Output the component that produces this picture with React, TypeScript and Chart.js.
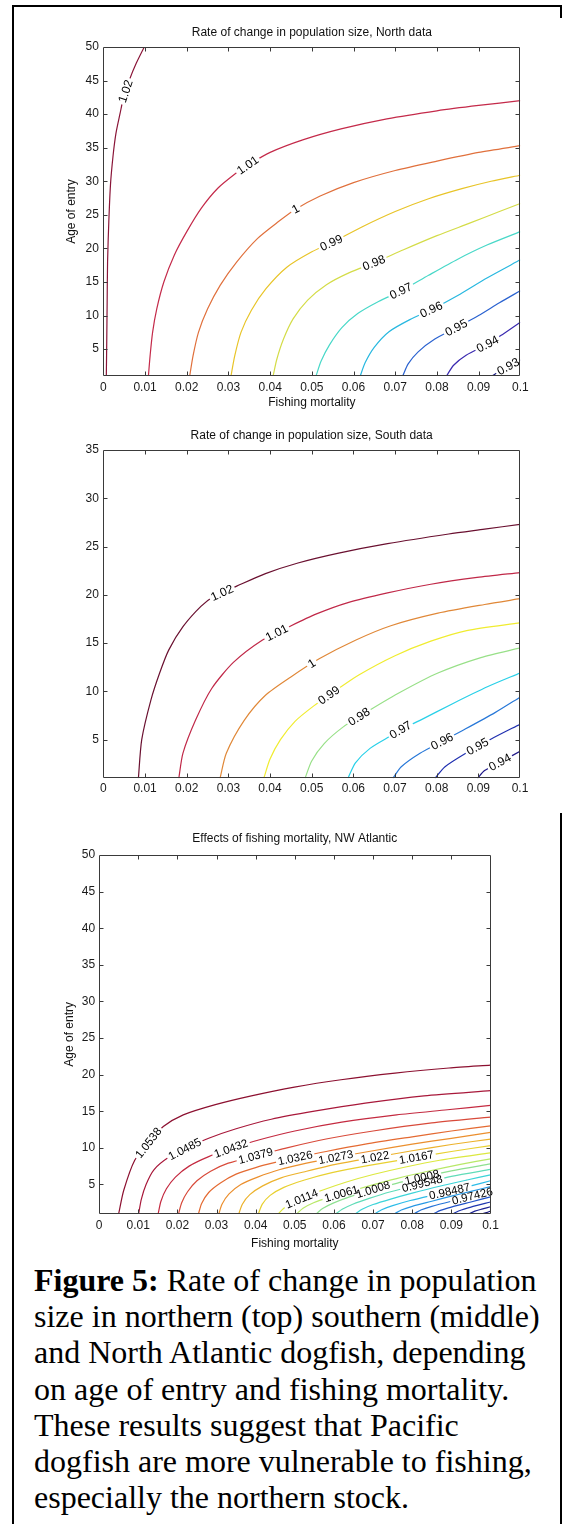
import React, { useEffect, useRef } from 'react';
import { Chart, registerables } from 'chart.js';

Chart.register(...registerables);

const FONT = "'Liberation Sans', Arial, Helvetica, sans-serif";
Chart.defaults.font.family = FONT;
Chart.defaults.color = '#1a1a1a';

// ---------- tick labels ----------
const X_TICKS = [0, 0.01, 0.02, 0.03, 0.04, 0.05, 0.06, 0.07, 0.08, 0.09, 0.1];
const Y_TICKS_50 = [5, 10, 15, 20, 25, 30, 35, 40, 45, 50];
const Y_TICKS_35 = [5, 10, 15, 20, 25, 30, 35];

// ---------- North data: contour lines [fishing mortality, age of entry] ----------
const N_102 = [[0.0007, 1], [0.0008, 6], [0.0009, 12], [0.001, 18], [0.0013, 24], [0.0017, 29.5], [0.0023, 33.7], [0.003, 37.1], [0.004, 40.1], [0.0048, 42.4], [0.0063, 45.2], [0.0079, 47.6], [0.0098, 50]];
const N_101 = [[0.0108, 1], [0.0112, 4], [0.0118, 7.5], [0.0128, 11], [0.0145, 15], [0.017, 19], [0.02, 22.5], [0.0235, 26], [0.0275, 29], [0.032, 31.3], [0.0346, 32.4], [0.04, 34.3], [0.048, 36.2], [0.057, 37.8], [0.068, 39.3], [0.08, 40.5], [0.09, 41.3], [0.1, 42.0]];
const N_100 = [[0.0207, 1], [0.0215, 4], [0.0228, 7.5], [0.025, 11], [0.028, 14.5], [0.032, 18], [0.037, 21.5], [0.042, 24], [0.046, 25.8], [0.052, 27.8], [0.06, 29.8], [0.07, 31.6], [0.08, 33], [0.09, 34.3], [0.1, 35.3]];
const N_099 = [[0.0306, 1], [0.0315, 4], [0.033, 7.5], [0.0355, 10.8], [0.039, 14], [0.044, 17.2], [0.05, 19.5], [0.0549, 20.9], [0.062, 23.2], [0.07, 25.5], [0.078, 27.4], [0.086, 28.9], [0.093, 30], [0.1, 30.9]];
const N_098 = [[0.0407, 1], [0.0416, 3.5], [0.0432, 6.5], [0.0455, 9.5], [0.049, 12.3], [0.0535, 14.6], [0.059, 16.4], [0.0651, 17.9], [0.072, 19.8], [0.08, 21.9], [0.088, 23.8], [0.095, 25.5], [0.1, 26.7]];
const N_097 = [[0.051, 1], [0.0522, 3.2], [0.0542, 5.6], [0.0572, 8.2], [0.061, 10.3], [0.066, 12.1], [0.0715, 13.7], [0.078, 16.0], [0.085, 18.4], [0.092, 20.5], [0.1, 22.5]];
const N_096 = [[0.0616, 1], [0.0628, 3.0], [0.065, 5.3], [0.0685, 7.6], [0.0735, 9.4], [0.0787, 10.9], [0.085, 13.0], [0.092, 15.6], [0.1, 18.3]];
const N_095 = [[0.0718, 1], [0.0731, 2.8], [0.0755, 4.6], [0.0795, 6.5], [0.0847, 8.2], [0.09, 10.0], [0.095, 11.9], [0.1, 13.7]];
const N_094 = [[0.0823, 1], [0.084, 2.6], [0.087, 4.1], [0.0923, 5.8], [0.096, 7.3], [0.1, 9.0]];
const N_093 = [[0.0932, 1], [0.095, 1.7], [0.0971, 2.4], [0.1, 3.4]];
const NORTH_LINES = [N_102, N_101, N_100, N_099, N_098, N_097, N_096, N_095, N_094, N_093];
const NORTH_COLORS = ['#8a1538', '#c42a4a', '#e0703c', '#e8c428', '#d4dc48', '#48d8c8', '#28b8e0', '#2a62d0', '#3a2ab0', '#1a1a80'];
const NORTH_LABELS = [
  { i: 0, x: 0.0058, y: 43.3, t: '1.02' },
  { i: 1, x: 0.0346, y: 32.4, t: '1.01' },
  { i: 2, x: 0.046, y: 26.0, t: '1' },
  { i: 3, x: 0.0549, y: 20.5, t: '0.99' },
  { i: 4, x: 0.0651, y: 17.5, t: '0.98' },
  { i: 5, x: 0.0715, y: 13.5, t: '0.97' },
  { i: 6, x: 0.0787, y: 10.8, t: '0.96' },
  { i: 7, x: 0.0847, y: 8.1, t: '0.95' },
  { i: 8, x: 0.0923, y: 5.6, t: '0.94' },
  { i: 9, x: 0.0971, y: 2.4, t: '0.93' },
];

// ---------- South data ----------
const S_102 = [[0.0084, 1], [0.0092, 5.0], [0.0114, 9.1], [0.0135, 11.9], [0.0157, 14.3], [0.0191, 16.7], [0.0234, 18.8], [0.0264, 19.8], [0.032, 20.9], [0.0389, 22.2], [0.0467, 23.3], [0.0562, 24.3], [0.0682, 25.3], [0.0829, 26.3], [0.0915, 26.8], [0.1, 27.3]];
const S_101 = [[0.0181, 1], [0.0191, 3.6], [0.0221, 7.0], [0.026, 10.3], [0.0312, 13.0], [0.0381, 15.3], [0.0441, 16.6], [0.051, 18.0], [0.0587, 19.2], [0.0682, 20.2], [0.0786, 21.1], [0.0897, 21.8], [0.1, 22.3]];
const S_100 = [[0.028, 1], [0.0295, 3.6], [0.0338, 7.0], [0.0389, 9.6], [0.045, 11.5], [0.0519, 13.4], [0.0605, 15.3], [0.069, 16.8], [0.0803, 18.1], [0.0915, 19.0], [0.1, 19.6]];
const S_099 = [[0.0385, 1], [0.04, 3], [0.0425, 5], [0.046, 6.9], [0.0505, 8.5], [0.0551, 9.9], [0.0613, 11.7], [0.07, 13.7], [0.0786, 15.2], [0.0872, 16.3], [0.1, 17.1]];
const S_098 = [[0.0484, 1], [0.05, 2.8], [0.053, 4.6], [0.0575, 6.3], [0.0622, 7.6], [0.0708, 9.8], [0.0803, 11.9], [0.0906, 13.5], [0.1, 14.5]];
const S_097 = [[0.0587, 1], [0.0605, 2.6], [0.064, 4.1], [0.069, 5.4], [0.0717, 6.1], [0.076, 7.0], [0.0837, 8.7], [0.0923, 10.5], [0.1, 11.9]];
const S_096 = [[0.0695, 1], [0.0715, 2.2], [0.076, 3.6], [0.0812, 4.8], [0.086, 5.9], [0.094, 7.8], [0.1, 9.4]];
const S_095 = [[0.0796, 1], [0.082, 2.2], [0.087, 3.6], [0.0932, 5.1], [0.1, 6.6]];
const S_094 = [[0.0898, 1], [0.0915, 1.8], [0.0958, 2.8], [0.1, 3.8]];
const SOUTH_LINES = [S_102, S_101, S_100, S_099, S_098, S_097, S_096, S_095, S_094];
const SOUTH_COLORS = ['#6a1030', '#c02848', '#e08838', '#f0ec30', '#98e088', '#28d0e8', '#2878d8', '#2030b0', '#201888'];
const SOUTH_LABELS = [
  { i: 0, x: 0.0288, y: 19.9, t: '1.02' },
  { i: 1, x: 0.0417, y: 16.0, t: '1.01' },
  { i: 2, x: 0.0503, y: 12.7, t: '1' },
  { i: 3, x: 0.0551, y: 9.0, t: '0.99' },
  { i: 4, x: 0.0622, y: 6.8, t: '0.98' },
  { i: 5, x: 0.0717, y: 5.75, t: '0.97' },
  { i: 6, x: 0.0812, y: 4.9, t: '0.96' },
  { i: 7, x: 0.0902, y: 4.0, t: '0.95' },
  { i: 8, x: 0.0954, y: 2.5, t: '0.94' },
];

// ---------- NW Atlantic data ----------
const A01 = [[0.005, 1], [0.0063, 4.2], [0.0091, 8.3], [0.0128, 10.8], [0.0164, 12.9], [0.0215, 14.5], [0.0297, 15.9], [0.0389, 17.1], [0.0499, 18.3], [0.0618, 19.3], [0.0756, 20.2], [0.0894, 20.9], [0.1, 21.3]];
const A02 = [[0.0101, 1], [0.0108, 3], [0.012, 5], [0.014, 7], [0.0175, 8.6], [0.0222, 9.9], [0.028, 11.3], [0.035, 12.6], [0.044, 13.9], [0.055, 15.0], [0.068, 16.1], [0.083, 17.1], [0.1, 17.8]];
const A03 = [[0.0151, 1], [0.0158, 2.7], [0.0172, 4.4], [0.0195, 6.0], [0.023, 7.5], [0.028, 8.8], [0.0337, 9.9], [0.041, 11.1], [0.05, 12.3], [0.062, 13.5], [0.076, 14.5], [0.089, 15.2], [0.1, 15.8]];
const A04 = [[0.0203, 1], [0.0211, 2.5], [0.0226, 4.0], [0.025, 5.5], [0.0285, 6.8], [0.033, 7.9], [0.04, 8.9], [0.048, 10.0], [0.058, 11.2], [0.07, 12.3], [0.085, 13.4], [0.1, 14.2]];
const A05 = [[0.0254, 1], [0.0262, 2.4], [0.028, 3.9], [0.031, 5.2], [0.035, 6.4], [0.04, 7.3], [0.045, 8.0], [0.05, 8.6], [0.058, 9.5], [0.068, 10.5], [0.08, 11.5], [0.09, 12.3], [0.1, 13.0]];
const A06 = [[0.0306, 1], [0.0314, 2.3], [0.0332, 3.7], [0.0362, 5.0], [0.0405, 6.0], [0.046, 7.0], [0.053, 7.9], [0.0605, 8.7], [0.07, 9.6], [0.08, 10.5], [0.09, 11.3], [0.1, 12.1]];
const A07 = [[0.0357, 1], [0.0366, 2.3], [0.0385, 3.6], [0.0418, 4.8], [0.0465, 5.9], [0.053, 6.8], [0.061, 7.8], [0.0705, 8.7], [0.08, 9.6], [0.09, 10.45], [0.1, 11.2]];
const A08 = [[0.0407, 1], [0.0417, 2.3], [0.0437, 3.5], [0.0472, 4.6], [0.0525, 5.6], [0.0595, 6.6], [0.069, 7.6], [0.0811, 8.7], [0.09, 9.5], [0.1, 10.3]];
const A09 = [[0.0458, 1], [0.0472, 1.75], [0.0495, 2.55], [0.0522, 3.15], [0.057, 4.2], [0.063, 5.3], [0.07, 6.35], [0.078, 7.35], [0.087, 8.3], [0.1, 9.3]];
const A10 = [[0.0505, 1], [0.0521, 1.75], [0.0548, 2.5], [0.0585, 3.2], [0.0625, 3.8], [0.069, 4.8], [0.076, 5.8], [0.084, 6.8], [0.092, 7.7], [0.1, 8.5]];
const A11 = [[0.0555, 1], [0.0571, 1.7], [0.0598, 2.45], [0.064, 3.3], [0.07, 4.3], [0.076, 5.15], [0.0825, 5.95], [0.09, 6.85], [0.1, 7.8]];
const A12 = [[0.0605, 1], [0.0621, 1.6], [0.0648, 2.3], [0.069, 3.1], [0.0745, 4.0], [0.0825, 5.1], [0.09, 6.1], [0.1, 7.05]];
const A13 = [[0.0655, 1], [0.0672, 1.6], [0.07, 2.25], [0.0745, 3.0], [0.08, 3.8], [0.087, 4.75], [0.094, 5.6], [0.1, 6.3]];
const A14 = [[0.0705, 1], [0.0722, 1.55], [0.075, 2.1], [0.0795, 2.8], [0.085, 3.5], [0.09, 4.1], [0.095, 4.8], [0.1, 5.5]];
const A15 = [[0.0755, 1], [0.0772, 1.5], [0.08, 2.0], [0.085, 2.7], [0.09, 3.4], [0.095, 4.05], [0.1, 4.7]];
const A16 = [[0.0805, 1], [0.0822, 1.5], [0.085, 2.0], [0.09, 2.7], [0.095, 3.35], [0.1, 4.0]];
const A17 = [[0.0855, 1], [0.0872, 1.45], [0.09, 1.9], [0.095, 2.6], [0.1, 3.3]];
const A18 = [[0.0905, 1], [0.092, 1.4], [0.095, 1.9], [0.1, 2.6]];
const A19 = [[0.0945, 1], [0.096, 1.35], [0.098, 1.65], [0.1, 1.95]];
const A20 = [[0.098, 1], [0.099, 1.15], [0.1, 1.35]];
const ATL_LINES = [A01, A02, A03, A04, A05, A06, A07, A08, A09, A10, A11, A12, A13, A14, A15, A16, A17, A18, A19, A20];
const ATL_COLORS = ['#8c1030', '#a8183a', '#c42a40', '#d84a3a', '#e46a32', '#eb8f2e', '#ecb22c', '#e8d030', '#dce840', '#b8e868', '#8ee090', '#60dcb8', '#3cd4d8', '#2cbce8', '#2898e4', '#2474d8', '#2052c8', '#1e36b0', '#1c2294', '#161478'];
const ATL_LABELS = [
  { i: 0, x: 0.0128, y: 10.6, t: '1.0538' },
  { i: 1, x: 0.0222, y: 9.5, t: '1.0485' },
  { i: 2, x: 0.0337, y: 9.9, t: '1.0432' },
  { i: 3, x: 0.04, y: 8.9, t: '1.0379' },
  { i: 4, x: 0.0501, y: 8.6, t: '1.0326' },
  { i: 5, x: 0.0605, y: 8.7, t: '1.0273' },
  { i: 6, x: 0.0705, y: 8.6, t: '1.022' },
  { i: 7, x: 0.0811, y: 8.6, t: '1.0167' },
  { i: 8, x: 0.052, y: 2.75, t: '1.0114' },
  { i: 9, x: 0.062, y: 3.5, t: '1.0061' },
  { i: 10, x: 0.07, y: 4.3, t: '1.0008' },
  { i: 10, x: 0.0825, y: 5.95, t: '1.0008' },
  { i: 11, x: 0.0825, y: 5.25, t: '0.99548' },
  { i: 13, x: 0.0897, y: 3.65, t: '0.98487' },
  { i: 15, x: 0.0957, y: 2.65, t: '0.97426' },
];

// ---------- helpers ----------
function nearestOnPolyline(pts: any[], px: number, py: number) {
  let best = { d: Infinity, x: 0, y: 0, ang: 0 };
  for (let j = 0; j < pts.length - 1; j++) {
    const a = pts[j], b = pts[j + 1];
    const dx = b.x - a.x, dy = b.y - a.y;
    const len2 = dx * dx + dy * dy || 1e-9;
    let t = ((px - a.x) * dx + (py - a.y) * dy) / len2;
    t = Math.max(0, Math.min(1, t));
    const qx = a.x + t * dx, qy = a.y + t * dy;
    const d = (qx - px) * (qx - px) + (qy - py) * (qy - py);
    if (d < best.d) best = { d, x: qx, y: qy, ang: Math.atan2(dy, dx) };
  }
  return best;
}

function tracePath(ctx: CanvasRenderingContext2D, pts: any[]) {
  ctx.beginPath();
  ctx.moveTo(pts[0].x, pts[0].y);
  for (let j = 1; j < pts.length; j++) {
    const p = pts[j - 1], q = pts[j];
    if (p.cp2x !== undefined && q.cp1x !== undefined) {
      ctx.bezierCurveTo(p.cp2x, p.cp2y, q.cp1x, q.cp1y, q.x, q.y);
    } else {
      ctx.lineTo(q.x, q.y);
    }
  }
}

function makeLabelPlugin(labels: any[], fontSize: number) {
  return {
    id: 'contourLabels',
    afterDatasetsDraw(chart: any) {
      const ctx = chart.ctx as CanvasRenderingContext2D;
      const xs = chart.scales.x, ys = chart.scales.y;
      ctx.save();
      ctx.font = `${fontSize}px ${FONT}`;
      const placed = labels.map((l) => {
        const pts = chart.getDatasetMeta(l.i).data;
        const n = nearestOnPolyline(pts, xs.getPixelForValue(l.x), ys.getPixelForValue(l.y));
        let a = n.ang;
        if (a > Math.PI / 2) a -= Math.PI;
        if (a < -Math.PI / 2) a += Math.PI;
        const w = ctx.measureText(l.t).width;
        return { x: n.x, y: n.y, a, w, t: l.t, pts };
      });
      for (const p of placed) {
        ctx.save();
        ctx.translate(p.x, p.y);
        ctx.rotate(p.a);
        ctx.beginPath();
        ctx.rect(-p.w / 2 - 2, -fontSize / 2 - 1, p.w + 4, fontSize + 2);
        ctx.rotate(-p.a);
        ctx.translate(-p.x, -p.y);
        ctx.clip();
        tracePath(ctx, p.pts);
        ctx.strokeStyle = '#ffffff';
        ctx.lineWidth = 4;
        ctx.stroke();
        ctx.restore();
      }
      ctx.fillStyle = '#000';
      ctx.textAlign = 'center';
      ctx.textBaseline = 'middle';
      for (const p of placed) {
        ctx.save();
        ctx.translate(p.x, p.y);
        ctx.rotate(p.a);
        ctx.fillText(p.t, 0, 0.5);
        ctx.restore();
      }
      ctx.restore();
    },
  };
}

const framePlugin = {
  id: 'matlabFrame',
  afterDraw(chart: any) {
    const ctx = chart.ctx as CanvasRenderingContext2D;
    const a = chart.chartArea;
    const xs = chart.scales.x, ys = chart.scales.y;
    const L = Math.round(a.left) + 0.5, R = Math.round(a.right) - 0.5;
    const T = Math.round(a.top) + 0.5, B = Math.round(a.bottom) - 0.5;
    ctx.save();
    ctx.strokeStyle = '#3a3a3a';
    ctx.lineWidth = 1;
    ctx.beginPath();
    ctx.rect(L, T, R - L, B - T);
    const tl = 4;
    xs.ticks.forEach((tk: any) => {
      if (tk.value <= xs.min || tk.value >= xs.max) return;
      const px = Math.round(xs.getPixelForValue(tk.value)) + 0.5;
      ctx.moveTo(px, B); ctx.lineTo(px, B - tl);
      ctx.moveTo(px, T); ctx.lineTo(px, T + tl);
    });
    ys.ticks.forEach((tk: any) => {
      if (tk.value <= ys.min || tk.value >= ys.max) return;
      const py = Math.round(ys.getPixelForValue(tk.value)) + 0.5;
      ctx.moveTo(L, py); ctx.lineTo(L + tl, py);
      ctx.moveTo(R, py); ctx.lineTo(R - tl, py);
    });
    ctx.stroke();
    ctx.restore();
  },
};

function buildConfig(s: any) {
  const tickFont = { family: FONT, size: 12 };
  return {
    type: 'scatter',
    data: {
      datasets: s.lines.map((pts: number[][], i: number) => ({
        data: pts.map(([x, y]) => ({ x, y })),
        showLine: true,
        borderColor: s.colors[i],
        borderWidth: 1.2,
        pointRadius: 0,
        pointHoverRadius: 0,
        tension: 0.25,
        fill: false,
      })),
    },
    options: {
      animation: false,
      responsive: false,
      events: [],
      layout: { padding: 0 },
      plugins: {
        legend: { display: false },
        tooltip: { enabled: false },
        title: {
          display: true,
          text: s.title,
          fullSize: false,
          color: '#111',
          font: { family: FONT, size: 12, weight: 'normal' },
          padding: { top: s.titlePadTop, bottom: s.titlePadBottom },
        },
      },
      scales: {
        x: {
          type: 'linear',
          position: 'bottom',
          min: 0,
          max: 0.1,
          afterBuildTicks: (sc: any) => { sc.ticks = X_TICKS.map((v) => ({ value: v })); },
          afterFit: (sc: any) => { sc.height = s.xHeight; },
          ticks: {
            callback: (v: number) => String(Math.round(v * 100) / 100),
            font: tickFont,
            color: '#1a1a1a',
            padding: s.xTickPad,
            maxRotation: 0,
            autoSkip: false,
          },
          grid: { display: false, drawTicks: false },
          border: { display: false },
          title: {
            display: !!s.xTitle,
            text: s.xTitle || '',
            color: '#111',
            font: { family: FONT, size: 12 },
            padding: { top: 0, bottom: s.xTitlePadBottom || 0 },
          },
        },
        y: {
          type: 'linear',
          position: 'left',
          min: 1,
          max: s.yMax,
          afterBuildTicks: (sc: any) => { sc.ticks = s.yTicks.map((v: number) => ({ value: v })); },
          afterFit: (sc: any) => { sc.width = s.yWidth; },
          ticks: {
            font: tickFont,
            color: '#1a1a1a',
            padding: s.yTickPad,
            autoSkip: false,
          },
          grid: { display: false, drawTicks: false },
          border: { display: false },
          title: {
            display: !!s.yTitle,
            text: s.yTitle || '',
            color: '#111',
            font: { family: FONT, size: 12 },
            padding: { top: s.yTitlePadTop || 0, bottom: 0 },
          },
        },
        y2: {
          type: 'linear',
          position: 'right',
          display: true,
          afterFit: (sc: any) => { sc.width = s.rightWidth; },
          ticks: { display: false },
          grid: { display: false, drawTicks: false },
          border: { display: false },
        },
      },
    },
    plugins: [makeLabelPlugin(s.labels, s.labelFont), framePlugin],
  };
}

function ContourPlot({ spec }: { spec: any }) {
  const ref = useRef<HTMLCanvasElement | null>(null);
  useEffect(() => {
    if (!ref.current) return;
    const chart = new Chart(ref.current, buildConfig(spec) as any);
    return () => chart.destroy();
  }, [spec]);
  return (
    <canvas
      ref={ref}
      width={563}
      height={spec.canvasHeight}
      style={{ position: 'absolute', left: 0, top: spec.canvasTop, width: 563, height: spec.canvasHeight }}
    />
  );
}

const NORTH_SPEC = {
  title: 'Rate of change in population size, North data',
  lines: NORTH_LINES, colors: NORTH_COLORS, labels: NORTH_LABELS, labelFont: 12,
  yMax: 50, yTicks: Y_TICKS_50,
  canvasTop: 15, canvasHeight: 401,
  titlePadTop: 10.5, titlePadBottom: 7.1,
  xHeight: 40, xTickPad: 4, xTitle: 'Fishing mortality', xTitlePadBottom: 5.8,
  yWidth: 103.4, yTickPad: 4.6, yTitle: 'Age of entry', yTitlePadTop: 64.6,
  rightWidth: 42.7,
};

const SOUTH_SPEC = {
  title: 'Rate of change in population size, South data',
  lines: SOUTH_LINES, colors: SOUTH_COLORS, labels: SOUTH_LABELS, labelFont: 12,
  yMax: 35, yTicks: Y_TICKS_35,
  canvasTop: 421, canvasHeight: 383,
  titlePadTop: 7.5, titlePadBottom: 7.1,
  xHeight: 25.7, xTickPad: 2.8, xTitle: '', xTitlePadBottom: 0,
  yWidth: 103.4, yTickPad: 4.6, yTitle: '', yTitlePadTop: 0,
  rightWidth: 43,
};

const ATL_SPEC = {
  title: 'Effects of fishing mortality, NW Atlantic',
  lines: ATL_LINES, colors: ATL_COLORS, labels: ATL_LABELS, labelFont: 11.5,
  yMax: 50, yTicks: Y_TICKS_50,
  canvasTop: 820, canvasHeight: 436,
  titlePadTop: 11.3, titlePadBottom: 9.3,
  xHeight: 42.3, xTickPad: 4.8, xTitle: 'Fishing mortality', xTitlePadBottom: 4.8,
  yWidth: 99.1, yTickPad: 4, yTitle: 'Age of entry', yTitlePadTop: 62.8,
  rightWidth: 72.5,
};

const CAPTION_LINES = [
  'size in northern (top) southern (middle)',
  'and North Atlantic dogfish, depending',
  'on age of entry and fishing mortality.',
  'These results suggest that Pacific',
  'dogfish are more vulnerable to fishing,',
  'especially the northern stock.',
];

export default function App() {
  return (
    <div style={{ position: 'absolute', left: 0, top: 0, width: 563, height: 1524, background: '#fff', overflow: 'hidden' }}>
      <div
        style={{
          position: 'absolute', left: 12, top: 5, width: 548, height: 1540,
          borderTop: '2px solid #000', borderLeft: '2px solid #000',
        }}
      />
      <div style={{ position: 'absolute', left: 560, top: 5, width: 2, height: 13, background: '#000' }} />
      <div style={{ position: 'absolute', left: 560, top: 813, width: 2, height: 720, background: '#000' }} />
      <ContourPlot spec={NORTH_SPEC} />
      <ContourPlot spec={SOUTH_SPEC} />
      <ContourPlot spec={ATL_SPEC} />
      <div
        style={{
          position: 'absolute', left: 34, top: 1262,
          fontFamily: "'Liberation Serif', 'Times New Roman', serif",
          fontSize: 32, lineHeight: '36.2px', color: '#000', whiteSpace: 'nowrap',
        }}
      >
        <div><b>Figure 5:</b> Rate of change in population</div>
        {CAPTION_LINES.map((t, i) => (
          <div key={i}>{t}</div>
        ))}
      </div>
    </div>
  );
}
